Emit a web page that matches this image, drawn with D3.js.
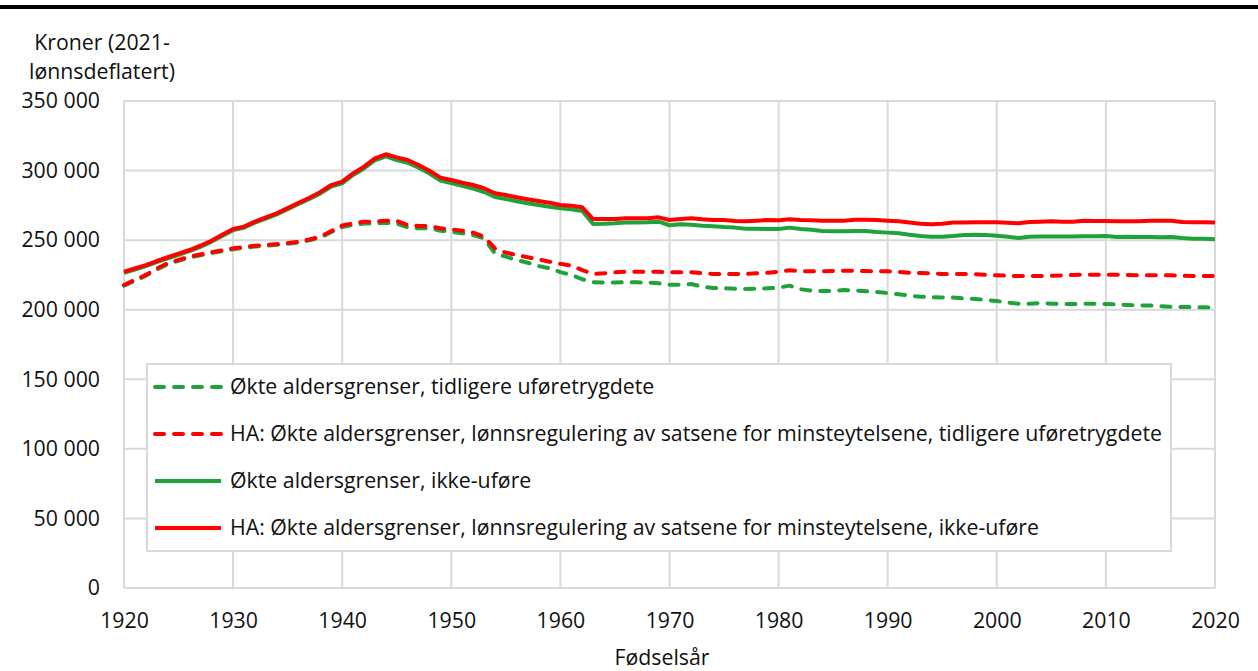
<!DOCTYPE html>
<html><head><meta charset="utf-8">
<script src="https://cdn.jsdelivr.net/npm/d3@7"></script>
<style>body{margin:0;background:#fff}svg{display:block}text{font-family:"Open Sans",sans-serif;fill:#111}</style>
</head><body><svg id="c" width="1258" height="671"></svg>
<script>
const years = d3.range(1920, 2021);
const seriesNames = [
 "Økte aldersgrenser, tidligere uføretrygdete",
 "HA: Økte aldersgrenser, lønnsregulering av satsene for minsteytelsene, tidligere uføretrygdete",
 "Økte aldersgrenser, ikke-uføre",
 "HA: Økte aldersgrenser, lønnsregulering av satsene for minsteytelsene, ikke-uføre"
];
const seriesColors = ["#20a23a","#ff0000","#20a23a","#ff0000"];
const seriesDashed = [true,true,false,false];
// HA ikke-uføre (solid red)
const haIkkeUfore = [
 227300,229700,232100,235000,237700,240300,242900,246000,249600,253800,
 258000,259700,263300,266300,269300,273000,276900,280500,284600,289600,
 292000,298000,302800,308800,311700,309500,307600,304000,299900,294900,
 293200,291300,289600,287300,283700,282400,280800,279400,278100,276900,
 275300,274800,273600,265200,265200,265200,265700,265700,265700,266400,
 264500,265200,265700,265000,264500,264500,263800,263600,264000,264500,
 264300,265000,264500,264300,264000,264000,264000,264700,264700,264500,
 264000,263500,262600,261800,261400,261800,262600,262600,262800,262900,
 262800,262500,262100,263000,263300,263500,263300,263300,264000,263800,
 263800,263600,263600,263600,264000,264000,264000,263000,262800,262800,262600
];
// Økte aldersgrenser, ikke-uføre (solid green)
const ikkeUfore = [
 226500,228900,231300,234200,236900,239500,242100,245200,248800,253000,
 257200,258900,262500,265500,268500,272200,276000,279600,283600,288500,
 290800,296800,301500,307400,310200,307600,305600,302000,297900,292900,
 291100,289000,287000,284600,281000,279600,278000,276500,275200,273900,
 272900,272200,271000,261600,261800,262100,262600,262600,262800,263300,
 260700,261400,261000,260400,260000,259400,259000,258200,258200,258000,
 258000,259000,258000,257500,256600,256400,256400,256600,256600,255900,
 255400,255000,253900,253000,252500,252500,253000,253700,253900,253700,
 253200,252500,251500,252500,252700,252700,252700,252700,252800,252800,
 253000,252300,252500,252300,252300,252000,252300,251500,251000,251000,250600
];
// HA tidligere uføretrygdete (dashed red)
const haTidligereUfore = [
 217800,221400,225000,229500,233400,235800,238100,239700,241300,242700,
 244100,245000,246000,246600,247200,248000,248900,250500,252500,256500,
 260500,262100,263300,263300,264000,263800,260900,260200,260200,258500,
 257800,256800,255400,252500,244100,241000,239300,237700,236200,234500,
 233000,231700,228500,225700,226200,226900,227300,227300,227300,227300,
 226900,226900,226900,226200,225700,225500,225700,225700,226200,226600,
 227300,228300,227800,227600,227600,227800,228000,228000,227800,227600,
 227600,227100,226600,226400,226200,225700,225700,225700,225500,225000,
 224700,224400,224200,224200,224200,224400,224700,225000,225200,225200,
 225200,225200,225000,224700,224700,224700,224700,224400,224200,224200,224200
];
// Økte aldersgrenser, tidligere uføretrygdete (dashed green)
const tidligereUfore = [
 217200,220800,224400,228900,232800,235200,237500,239100,240700,242100,
 243500,244400,245400,246000,246600,247400,248300,249900,251900,255800,
 259500,261000,262000,262000,262500,262000,259200,258500,258500,256800,
 256000,255000,253600,251300,240500,238100,235700,233800,231400,229800,
 227000,225000,221900,219700,219500,219500,219900,219700,219500,219000,
 218000,218000,218500,216600,215600,215400,215100,214900,215100,215400,
 215800,217300,214700,213700,213500,213500,214200,213800,213300,212700,
 212000,211100,210100,209400,208900,208800,208700,208200,207700,207000,
 206300,205100,204300,204300,204800,204300,204100,204100,204300,204300,
 204100,203800,203400,203100,203100,202500,202000,202000,201800,201800,201500
];
const seriesValues = [tidligereUfore, haTidligereUfore, ikkeUfore, haIkkeUfore];
const xTicks = d3.range(1920, 2021, 10);
const yTicks = d3.range(0, 350001, 50000);
const yTitle = ["Kroner (2021-", "lønnsdeflatert)"];
const xTitle = "Fødselsår";

const FS = 21.3;
const svg = d3.select("#c");
const x = d3.scaleLinear().domain([1920, 2020]).range([124, 1215]);
const y = d3.scaleLinear().domain([0, 350000]).range([588, 101]);
const grid = "#d9d9d9";

svg.append("rect").attr("x",0).attr("y",5).attr("width",1258).attr("height",4).attr("fill","#000");

// grid
svg.append("g").selectAll("line").data(yTicks).join("line")
  .attr("x1",124).attr("x2",1215).attr("y1",d=>y(d)).attr("y2",d=>y(d))
  .attr("stroke",grid).attr("stroke-width",2);
svg.append("g").selectAll("line").data(xTicks).join("line")
  .attr("y1",101).attr("y2",588).attr("x1",d=>x(d)).attr("x2",d=>x(d))
  .attr("stroke",grid).attr("stroke-width",2);

// axes
const fmt = d => d3.format(",")(d).replace(/,/g, "\u00a0");
const yAxis = d3.axisLeft(y).tickValues(yTicks).tickSize(0).tickPadding(24).tickFormat(fmt);
const gy = svg.append("g").attr("transform","translate(124,0)").call(yAxis);
gy.select(".domain").remove();
gy.selectAll("text").attr("font-size",FS).attr("fill","#111").style("font-family","Open Sans");
const xAxis = d3.axisBottom(x).tickValues(xTicks).tickSize(0).tickPadding(25).tickFormat(d3.format("d"));
const gx = svg.append("g").attr("transform","translate(0,588)").call(xAxis);
gx.select(".domain").remove();
gx.selectAll("text").attr("font-size",FS).attr("fill","#111").style("font-family","Open Sans");

svg.append("text").attr("x",662).attr("y",665).attr("text-anchor","middle").attr("font-size",FS).text(xTitle);
svg.append("g").selectAll("text").data(yTitle).join("text")
  .attr("x",102).attr("y",(d,i)=>50+i*29).attr("text-anchor","middle").attr("font-size",FS).text(d=>d);

// lines
const line = d3.line().x((d,i)=>x(years[i])).y(d=>y(d));
const order = [2,3,0,1];
order.forEach(k=>{
  svg.append("path").datum(seriesValues[k]).attr("d",line)
    .attr("fill","none").attr("stroke",seriesColors[k]).attr("stroke-width",4)
    .attr("stroke-linejoin","round")
    .attr("stroke-linecap", seriesDashed[k] ? "round" : "butt")
    .attr("stroke-dasharray", seriesDashed[k] ? "9,10" : null);
});

// legend
const lg = svg.append("g");
lg.append("rect").attr("x",147).attr("y",364).attr("width",1024).attr("height",187)
  .attr("fill","#fff").attr("stroke",grid).attr("stroke-width",2);
seriesNames.forEach((n,i)=>{
  const yy = 387 + i*47;
  lg.append("line").attr("x1",155).attr("x2",221).attr("y1",yy).attr("y2",yy)
    .attr("stroke",seriesColors[i]).attr("stroke-width",4)
    .attr("stroke-linecap", seriesDashed[i] ? "round" : "butt")
    .attr("stroke-dasharray", seriesDashed[i] ? "9,10" : null);
  lg.append("text").attr("x",230).attr("y",yy+7).attr("font-size",FS).text(n);
});
</script></body></html>
